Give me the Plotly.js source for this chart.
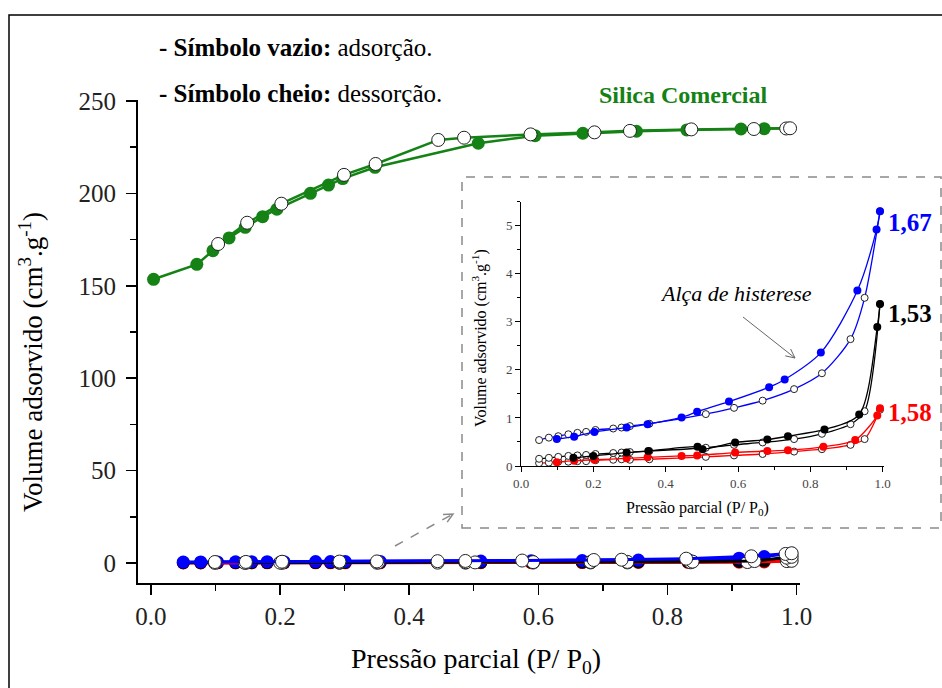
<!DOCTYPE html>
<html>
<head>
<meta charset="utf-8">
<script src="https://cdn.plot.ly/plotly-3.0.1.min.js"></script>
<style>
  html, body { margin: 0; padding: 0; background: #fff; }
  #chart { width: 942px; height: 688px; }
</style>
</head>
<body>
<div id="chart"></div>
<script>
// ---- Silica Comercial isotherm (main axes) ----
const silicaDesX = [0.004, 0.071, 0.096, 0.121, 0.146, 0.173, 0.195, 0.247, 0.275, 0.297, 0.347, 0.507, 0.595, 0.669, 0.752, 0.830, 0.914, 0.950, 0.988];
const silicaDesY = [153.5, 161.6, 169.0, 175.9, 181.6, 187.4, 191.4, 200.0, 204.5, 208.0, 214.1, 227.1, 231.2, 232.5, 233.6, 234.3, 234.8, 235.0, 235.2];
const silicaAdsX = [0.104, 0.149, 0.202, 0.299, 0.348, 0.445, 0.485, 0.588, 0.687, 0.742, 0.837, 0.934, 0.984, 0.990];
const silicaAdsY = [172.6, 184.1, 194.4, 210.0, 215.9, 228.9, 230.1, 231.9, 233.0, 233.8, 234.6, 234.8, 235.1, 235.2];

// ---- Samples 1,67 / 1,53 / 1,58 (lower branch and upper branch) ----
const lowX = [0.050, 0.077, 0.103, 0.131, 0.156, 0.180, 0.206, 0.255, 0.278, 0.301, 0.355, 0.511, 0.589, 0.668, 0.755, 0.832, 0.911, 0.950, 0.9925];
const s167LowY = [0.54, 0.59, 0.62, 0.66, 0.69, 0.71, 0.75, 0.78, 0.80, 0.83, 0.88, 1.08, 1.21, 1.36, 1.60, 1.93, 2.64, 3.50, 5.30];
const s153LowY = [0.15, 0.17, 0.19, 0.21, 0.22, 0.23, 0.25, 0.27, 0.28, 0.29, 0.31, 0.38, 0.44, 0.49, 0.56, 0.67, 0.87, 1.14, 3.37];
const s158LowY = [0.06, 0.07, 0.09, 0.09, 0.10, 0.10, 0.12, 0.13, 0.14, 0.13, 0.14, 0.19, 0.22, 0.25, 0.30, 0.35, 0.44, 0.56, 1.17];

const s167UpX = [0.099, 0.147, 0.203, 0.292, 0.350, 0.444, 0.487, 0.575, 0.686, 0.729, 0.829, 0.930, 0.983, 0.9925];
const s167UpY = [0.56, 0.61, 0.71, 0.80, 0.87, 1.01, 1.13, 1.34, 1.64, 1.80, 2.36, 3.65, 4.92, 5.30];
const s153UpX = [0.145, 0.200, 0.292, 0.352, 0.488, 0.502, 0.592, 0.681, 0.738, 0.839, 0.935, 0.985, 0.9925];
const s153UpY = [0.17, 0.21, 0.28, 0.31, 0.40, 0.35, 0.49, 0.55, 0.62, 0.76, 1.07, 2.89, 3.37];
const s158UpX = [0.099, 0.147, 0.203, 0.292, 0.350, 0.444, 0.487, 0.592, 0.681, 0.738, 0.836, 0.924, 0.985, 0.9925];
const s158UpY = [0.08, 0.11, 0.13, 0.16, 0.18, 0.21, 0.22, 0.28, 0.31, 0.33, 0.40, 0.54, 1.05, 1.20];

const sampleLabels = ['1,67', '1,53', '1,58'];
const xTickVals = [0, 0.2, 0.4, 0.6, 0.8, 1.0];
const xTickText = ['0.0', '0.2', '0.4', '0.6', '0.8', '1.0'];

// ---- styling ----
const GREEN = '#148214', BLUE = '#0000ff', RED = '#ff0000', BLACK = '#000000';
const SERIF = 'Liberation Serif';
const W = 942, H = 688;
const px = v => v / W;          // pixel -> paper x
const py = v => 1 - v / H;      // pixel -> paper y

function filled(x, y, color, axes, size, lw, shape) {
  return {
    x, y, xaxis: axes[0], yaxis: axes[1], type: 'scatter', mode: 'lines+markers',
    line: {color, width: lw, shape: shape || 'linear', smoothing: 0.8},
    marker: {color, size, line: {color, width: 0}},
    hoverinfo: 'skip', showlegend: false, cliponaxis: false
  };
}
function open(x, y, color, axes, size, lw, shape) {
  return {
    x, y, xaxis: axes[0], yaxis: axes[1], type: 'scatter', mode: 'lines+markers',
    line: {color, width: lw, shape: shape || 'linear', smoothing: 0.8},
    marker: {color: '#ffffff', size, line: {color: '#222', width: 1}},
    hoverinfo: 'skip', showlegend: false, cliponaxis: false
  };
}

const M = ['x', 'y'], I = ['x2', 'y2'];
const traces = [
  // main axes
  filled(silicaDesX, silicaDesY, GREEN, M, 13, 2.5),
  open(silicaAdsX, silicaAdsY, GREEN, M, 13, 2.5),
  filled(lowX, s158LowY, RED, M, 13, 3),
  filled(lowX, s153LowY, BLACK, M, 13, 3),
  filled(lowX, s167LowY, BLUE, M, 13, 3),
  open(s158UpX, s158UpY, RED, M, 13, 3),
  open(s153UpX, s153UpY, BLACK, M, 13, 3),
  open(s167UpX, s167UpY, BLUE, M, 13, 3),
  // inset axes
  open(lowX, s158LowY, RED, I, 7, 1.3, 'spline'),
  open(lowX, s153LowY, BLACK, I, 7, 1.3, 'spline'),
  open(lowX, s167LowY, BLUE, I, 7, 1.3, 'spline'),
  filled(s158UpX, s158UpY, RED, I, 8, 1.3, 'spline'),
  filled(s153UpX, s153UpY, BLACK, I, 8, 1.3, 'spline'),
  filled(s167UpX, s167UpY, BLUE, I, 8, 1.3, 'spline')
];

// V-shaped arrow head drawn as a path
function arrow(x0, y0, x1, y1, color, width, dash, head) {
  const dx = x1 - x0, dy = y1 - y0, L = Math.hypot(dx, dy);
  const ux = dx / L, uy = dy / L, a = Math.PI / 7;
  const r = (c, s) => [x1 - head * (ux * c - uy * s), y1 - head * (uy * c + ux * s)];
  const p1 = r(Math.cos(a), Math.sin(a)), p2 = r(Math.cos(a), -Math.sin(a));
  return [
    {type: 'line', xref: 'paper', yref: 'paper', x0: px(x0), y0: py(y0), x1: px(x1), y1: py(y1),
     line: {color, width, dash}},
    {type: 'path', xref: 'paper', yref: 'paper',
     path: `M ${px(p1[0])} ${py(p1[1])} L ${px(x1)} ${py(y1)} L ${px(p2[0])} ${py(p2[1])}`,
     line: {color, width: width}}
  ];
}

const shapes = [
  // outer frame
  {type: 'rect', xref: 'paper', yref: 'paper', x0: px(9), y0: py(700), x1: px(960), y1: py(15),
   line: {color: '#000', width: 1.5}},
  // inset frame
  {type: 'rect', xref: 'paper', yref: 'paper', x0: px(462), y0: py(528), x1: px(941), y1: py(177),
   line: {color: '#8a8a8a', width: 1.5, dash: 'dash'}},
  ...arrow(395, 546, 453, 514, '#8a8a8a', 1.5, 'dash', 10),
  ...arrow(743, 317, 795, 358, '#666', 1, 'solid', 10)
];

const font = (size, color) => ({family: SERIF, size, color: color || '#000'});
const ann = (text, x, y, size, opts) => Object.assign({
  text, x: px(x), y: py(y), xref: 'paper', yref: 'paper', showarrow: false,
  font: font(size)
}, opts || {});

const annotations = [
  ann('<b>- Símbolo vazio:</b> adsorção.', 157, 47, 25, {xanchor: 'left', yanchor: 'middle'}),
  ann('<b>- Símbolo cheio:</b> dessorção.', 157, 93, 25, {xanchor: 'left', yanchor: 'middle'}),
  ann('<b>Silica Comercial</b>', 597, 95, 24, {xanchor: 'left', yanchor: 'middle', font: font(24, GREEN)}),
  ann('Volume adsorvido (cm<sup>3</sup>.g<sup>-1</sup>)', 31, 362, 27, {textangle: -90, xanchor: 'center', yanchor: 'middle'}),
  ann('Pressão parcial (P/ P<sub>0</sub>)', 476, 660, 28, {xanchor: 'center', yanchor: 'middle'}),
  ann('Volume adsorvido (cm<sup>3</sup>.g<sup>-1</sup>)', 479, 338, 16, {textangle: -90, xanchor: 'center', yanchor: 'middle'}),
  ann('Pressão parcial (P/ P<sub>0</sub>)', 697, 508, 16, {xanchor: 'center', yanchor: 'middle'}),
  ann('<i>Alça de histerese</i>', 736, 293, 22, {xanchor: 'center', yanchor: 'middle'}),
  ann('<b>' + sampleLabels[0] + '</b>', 886, 222, 25, {xanchor: 'left', yanchor: 'middle', font: font(25, BLUE)}),
  ann('<b>' + sampleLabels[1] + '</b>', 886, 313, 25, {xanchor: 'left', yanchor: 'middle', font: font(25, BLACK)}),
  ann('<b>' + sampleLabels[2] + '</b>', 886, 413, 25, {xanchor: 'left', yanchor: 'middle', font: font(25, RED)})
];

const axisBase = {
  showgrid: false, zeroline: false, showline: true, linecolor: '#000',
  ticks: 'outside', tickcolor: '#000', fixedrange: true
};

const layout = {
  width: W, height: H, margin: {l: 0, r: 0, t: 0, b: 0},
  paper_bgcolor: '#fff', plot_bgcolor: 'rgba(0,0,0,0)', showlegend: false,
  font: font(14),
  xaxis: Object.assign({}, axisBase, {
    domain: [px(138), px(800)], range: [-0.0201, 1.0054], anchor: 'y',
    tickvals: xTickVals, ticktext: xTickText, ticklen: 10, tickwidth: 1.5, linewidth: 2,
    minor: {dtick: 0.1, tick0: 0, ticklen: 6, tickwidth: 1.5, tickcolor: '#000', ticks: 'outside'},
    tickfont: font(25, '#222')
  }),
  yaxis: Object.assign({}, axisBase, {
    domain: [py(583), py(100)], range: [-10.8, 250.5], anchor: 'x',
    tick0: 0, dtick: 50, ticklen: 10, tickwidth: 1.5, linewidth: 2,
    minor: {dtick: 25, tick0: 0, ticklen: 6, tickwidth: 1.5, tickcolor: '#000', ticks: 'outside'},
    tickfont: font(25, '#222'), ticklabelstandoff: 5
  }),
  xaxis2: Object.assign({}, axisBase, {
    domain: [px(521), px(884)], range: [0, 1.0036], anchor: 'y2',
    tickvals: xTickVals, ticktext: xTickText, ticklen: 5, tickwidth: 1, linewidth: 1,
    minor: {dtick: 0.1, tick0: 0, ticklen: 3, tickwidth: 1, tickcolor: '#000', ticks: 'outside'},
    tickfont: font(13, '#444')
  }),
  yaxis2: Object.assign({}, axisBase, {
    domain: [py(466), py(201.7)], range: [0, 5.5], anchor: 'x2',
    tick0: 0, dtick: 1, ticklen: 5, tickwidth: 1, linewidth: 1,
    minor: {dtick: 0.5, tick0: 0, ticklen: 3, tickwidth: 1, tickcolor: '#000', ticks: 'outside'},
    tickfont: font(13, '#444')
  }),
  shapes, annotations
};

Plotly.newPlot('chart', traces, layout, {staticPlot: true, displayModeBar: false});
</script>
</body>
</html>
